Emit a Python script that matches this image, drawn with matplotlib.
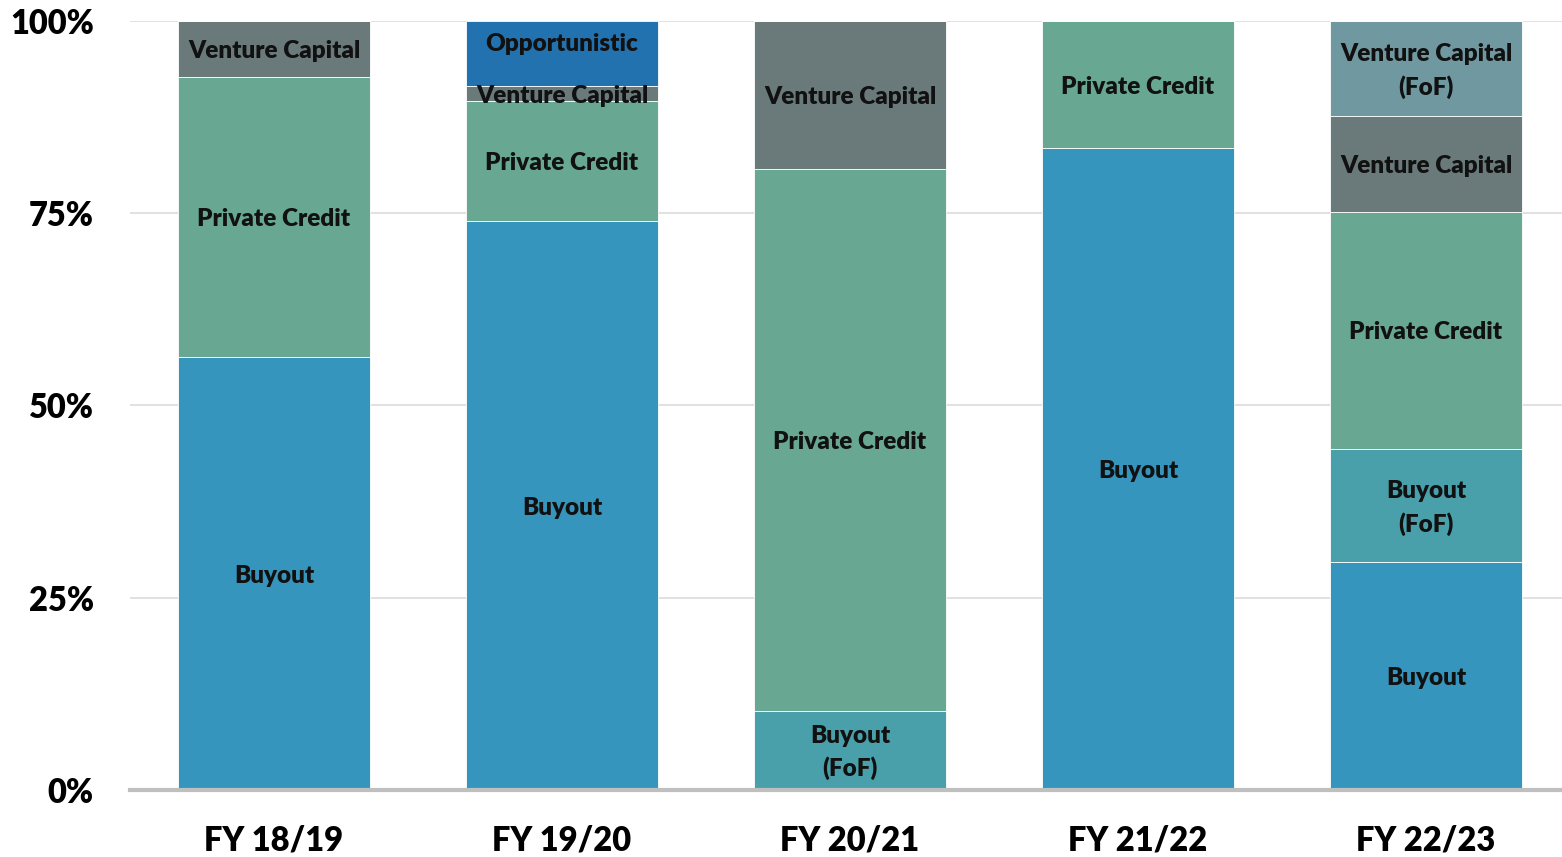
import numpy as np
import matplotlib.pyplot as plt
from matplotlib.ticker import FuncFormatter

plt.rcParams['font.family'] = ['Lato', 'DejaVu Sans']

years = ["FY 18/19", "FY 19/20", "FY 20/21", "FY 21/22", "FY 22/23"]

# share of commitments, %
buyout = [56.3, 74.0, 0.0, 83.5, 29.6]
buyout_fof = [0.0, 0.0, 10.3, 0.0, 14.8]
private_credit = [36.4, 15.6, 70.5, 16.5, 30.8]
venture_capital = [7.3, 1.9, 19.2, 0.0, 12.4]
venture_capital_fof = [0.0, 0.0, 0.0, 0.0, 12.4]
opportunistic = [0.0, 8.5, 0.0, 0.0, 0.0]

series = [
    ("Buyout", buyout, "#3595BC"),
    ("Buyout\n(FoF)", buyout_fof, "#4AA0AA"),
    ("Private Credit", private_credit, "#68A892"),
    ("Venture Capital", venture_capital, "#6A7A7A"),
    ("Venture Capital\n(FoF)", venture_capital_fof, "#7098A0"),
    ("Opportunistic", opportunistic, "#2272B0"),
]

fig = plt.figure(figsize=(15.62, 8.57), dpi=100)
ax = fig.add_axes([0.0832, 0.0782, 0.9168, 0.8973])

x = np.arange(len(years))
bottom = np.zeros(len(years))
for name, vals, color in series:
    vals = np.array(vals)
    ax.bar(x, vals, 0.665, bottom=bottom, color=color,
           edgecolor="white", linewidth=0.6, zorder=3)
    for i, v in enumerate(vals):
        if v <= 0:
            continue
        yc = bottom[i] + v / 2 - 0.3
        # the Opportunistic label sits a bit above its segment centre
        if name == "Opportunistic":
            yc = bottom[i] + v * 0.65
        ax.text(x[i], yc, name, ha="center", va="center", fontsize=17.5,
                fontweight="heavy", color="#111111", linespacing=1.5, zorder=4)
    bottom += vals

ax.set_xlim(-0.5, 4.472)
ax.set_ylim(0, 100)
ax.set_yticks([0, 25, 50, 75, 100])
ax.yaxis.set_major_formatter(FuncFormatter(lambda v, p: f"{v:.0f}%"))
ax.set_xticks(x)
ax.set_xticklabels(years)

ax.grid(axis="y", color="#D9D9D9", linewidth=1.1, zorder=0)
ax.set_axisbelow(True)
for s in ["top", "right", "left"]:
    ax.spines[s].set_visible(False)
ax.spines["bottom"].set_color("#BFBFBF")
ax.spines["bottom"].set_linewidth(3)
ax.spines["bottom"].set_zorder(5)

ax.tick_params(axis="y", length=0, pad=26, labelsize=23.5)
ax.tick_params(axis="x", length=0, pad=25, labelsize=23.5)
for lab in ax.get_xticklabels() + ax.get_yticklabels():
    lab.set_fontweight("heavy")

fig.savefig("out.png", dpi=100)
